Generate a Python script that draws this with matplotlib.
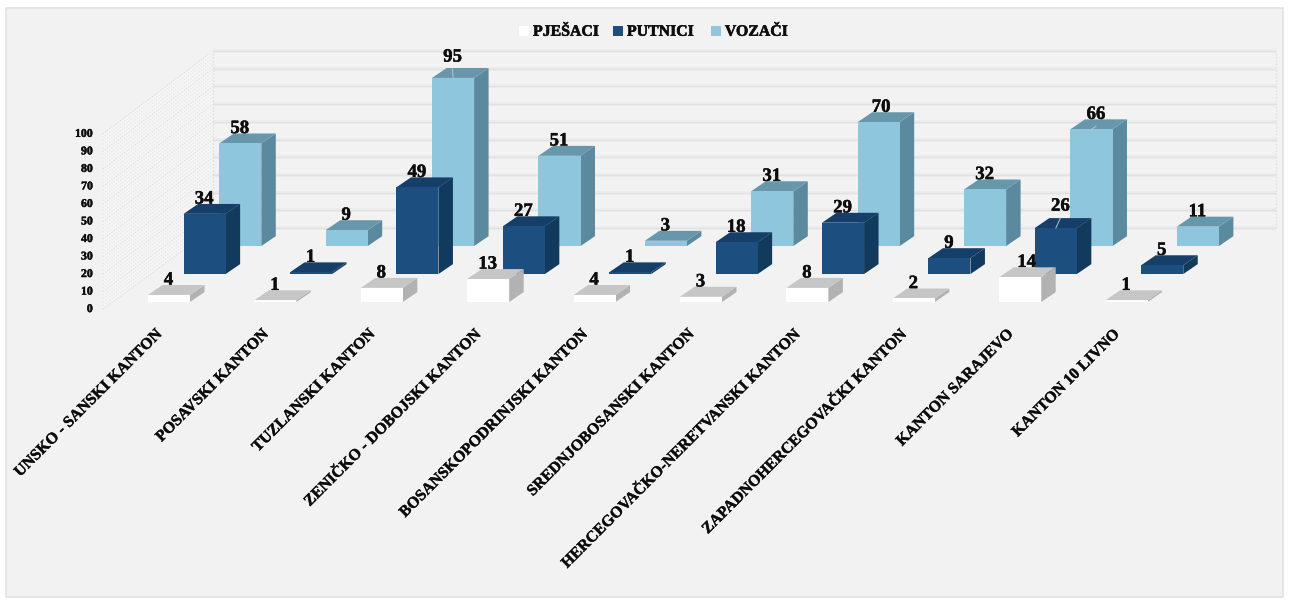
import matplotlib
matplotlib.use("Agg")
import matplotlib.pyplot as plt
import matplotlib.patheffects as pe
from matplotlib.patches import Polygon, Rectangle

categories = ["UNSKO - SANSKI KANTON", "POSAVSKI KANTON", "TUZLANSKI KANTON",
              "ZENIČKO - DOBOJSKI KANTON", "BOSANSKOPODRINJSKI KANTON",
              "SREDNJOBOSANSKI KANTON", "HERCEGOVAČKO-NERETVANSKI KANTON",
              "ZAPADNOHERCEGOVAČKI KANTON", "KANTON SARAJEVO", "KANTON 10 LIVNO"]
pjesaci = [4, 1, 8, 13, 4, 3, 8, 2, 14, 1]
putnici = [34, 1, 49, 27, 1, 18, 29, 9, 26, 5]
vozaci = [58, 9, 95, 51, 3, 31, 70, 32, 66, 11]
series_names = ["PJEŠACI", "PUTNICI", "VOZAČI"]
value_ticks = list(range(0, 101, 10))

W, H = 1289, 600
PX_X = 106.4      # pixels per category
PX_Y = 1.77       # pixels per value unit
X0, Y0 = 148, 302 # pixel of category 0, value 0 on the front series

BAR_W = 0.395
SHIFT_X, SHIFT_V = 0.335, 15.8   # offset between series
DEPTH_X, DEPTH_V = 0.136, 5.6    # bar depth

faces = [("#ffffff", "#c6c6c6", "#b2b2b2"),
         ("#1d4e80", "#153f68", "#123a5c"),
         ("#8ec6dd", "#6797ab", "#5b899e")]

# hand-moved data labels in the original: (series, category) -> pixel nudge
label_nudge = {(2, 2): (0, 6), (2, 6): (3, 0), (0, 8): (7, 0),
               (1, 8): (5, 7), (2, 8): (5, 0)}
leaders = [(2, 2), (1, 8), (2, 8)]

plt.rcParams["font.family"] = ["Liberation Serif", "DejaVu Serif"]
plt.rcParams["font.weight"] = "bold"
INK = "#0d0d0d"
def bold(w=0.35):
    return [pe.withStroke(linewidth=w, foreground=INK)]

fig = plt.figure(figsize=(W / 100, H / 100), dpi=100, facecolor="white")
ax = fig.add_axes([0, 0, 1, 1])
ax.set_xlim(-X0 / PX_X, (W - X0) / PX_X)
ax.set_ylim((Y0 - H) / PX_Y, Y0 / PX_Y)
ax.axis("off")

# chart-area frame
ax.add_patch(Rectangle((ax.get_xlim()[0] + 6 / PX_X, ax.get_ylim()[0] + 3 / PX_Y),
                       (W - 12) / PX_X, (H - 11) / PX_Y,
                       fc="#f2f2f2", ec="#e2e2e2", lw=1.2, zorder=0))

# walls
wall_fx, wall_bx, wall_end = -0.423, 0.611, 10.6
front_base, back_base = -4.0, 41.8
ax.add_patch(Polygon([(wall_fx, front_base), (wall_bx, back_base),
                      (wall_bx, back_base + 100), (wall_fx, front_base + 99)],
                     fc="#f5f5f5", ec="none", zorder=0.5))
for v in value_ticks:
    ax.plot([wall_bx, wall_end], [back_base + v, back_base + v],
            color="#ebebeb", lw=2.6, zorder=1, solid_capstyle="butt")
    ax.plot([wall_bx, wall_end], [back_base + v, back_base + v],
            color="#e1e1e1", lw=0.8, zorder=1.1, solid_capstyle="butt")
for v in range(0, 101, 2):
    ax.plot([wall_fx, wall_bx], [front_base + v * 0.99, back_base + v],
            color="#dcdcdc" if v % 10 == 0 else "#e6e6e6", lw=0.8,
            ls=(0, (1, 1.4)), zorder=1.1)
for wx in (wall_bx, wall_end):
    ax.plot([wx, wx], [back_base, back_base + 100],
            color="#e0e0e0", lw=1, ls=(0, (1, 1.4)), zorder=1.1)

# value-axis labels
for v in value_ticks:
    ax.text(wall_fx - 0.095, front_base + v * 0.99, str(v), ha="right", va="center",
            fontsize=8.5, color=INK, zorder=6, path_effects=bold(0.3))

# bars, back series first
all_series = [pjesaci, putnici, vozaci]
z = 2
for s in (2, 1, 0):
    front, top, side = faces[s]
    for i, val in enumerate(all_series[s]):
        x = i + s * SHIFT_X
        b = s * SHIFT_V
        t = b + val
        r = x + BAR_W
        ax.add_patch(Polygon([(r, b), (r + DEPTH_X, b + DEPTH_V),
                              (r + DEPTH_X, t + DEPTH_V), (r, t)],
                             fc=side, ec="none", zorder=z))
        ax.add_patch(Polygon([(x, t), (r, t), (r + DEPTH_X, t + DEPTH_V),
                              (x + DEPTH_X, t + DEPTH_V)],
                             fc=top, ec="none", zorder=z))
        ax.add_patch(Rectangle((x, b), BAR_W, val, fc=front, ec="none", zorder=z))
        ndx, ndy = label_nudge.get((s, i), (0, 0))
        lx = x + BAR_W / 2 - 0.005 + ndx / PX_X
        ly = t + DEPTH_V + 2.8 + ndy / PX_Y
        ax.text(lx, ly, str(val), ha="center", va="center",
                fontsize=13.5, color=INK, zorder=8, path_effects=bold())
        if (s, i) in leaders:
            ax.plot([lx, x + BAR_W / 2], [ly - 12 / PX_Y, t], color="#b4c4cd",
                    lw=0.7, zorder=z + 0.005)
        z += 0.01

# category labels
for i, name in enumerate(categories):
    ax.text(i + 0.06, -13.5, name, rotation=45, rotation_mode="anchor", ha="right",
            va="top", fontsize=11.4, color=INK, zorder=6, path_effects=bold(0.3))

# legend
leg_x = [3.487, 4.37, 5.29]
for name, (front, _, _), lx in zip(series_names, faces, leg_x):
    ax.add_patch(Rectangle((lx, 150.3), 10 / PX_X, 10 / PX_Y, fc=front, ec="none", zorder=6))
    ax.text(lx + 14 / PX_X, 152.7, name, ha="left", va="center",
            fontsize=11.4, color=INK, zorder=6, path_effects=bold(0.4))

fig.savefig("out.png", dpi=100)
